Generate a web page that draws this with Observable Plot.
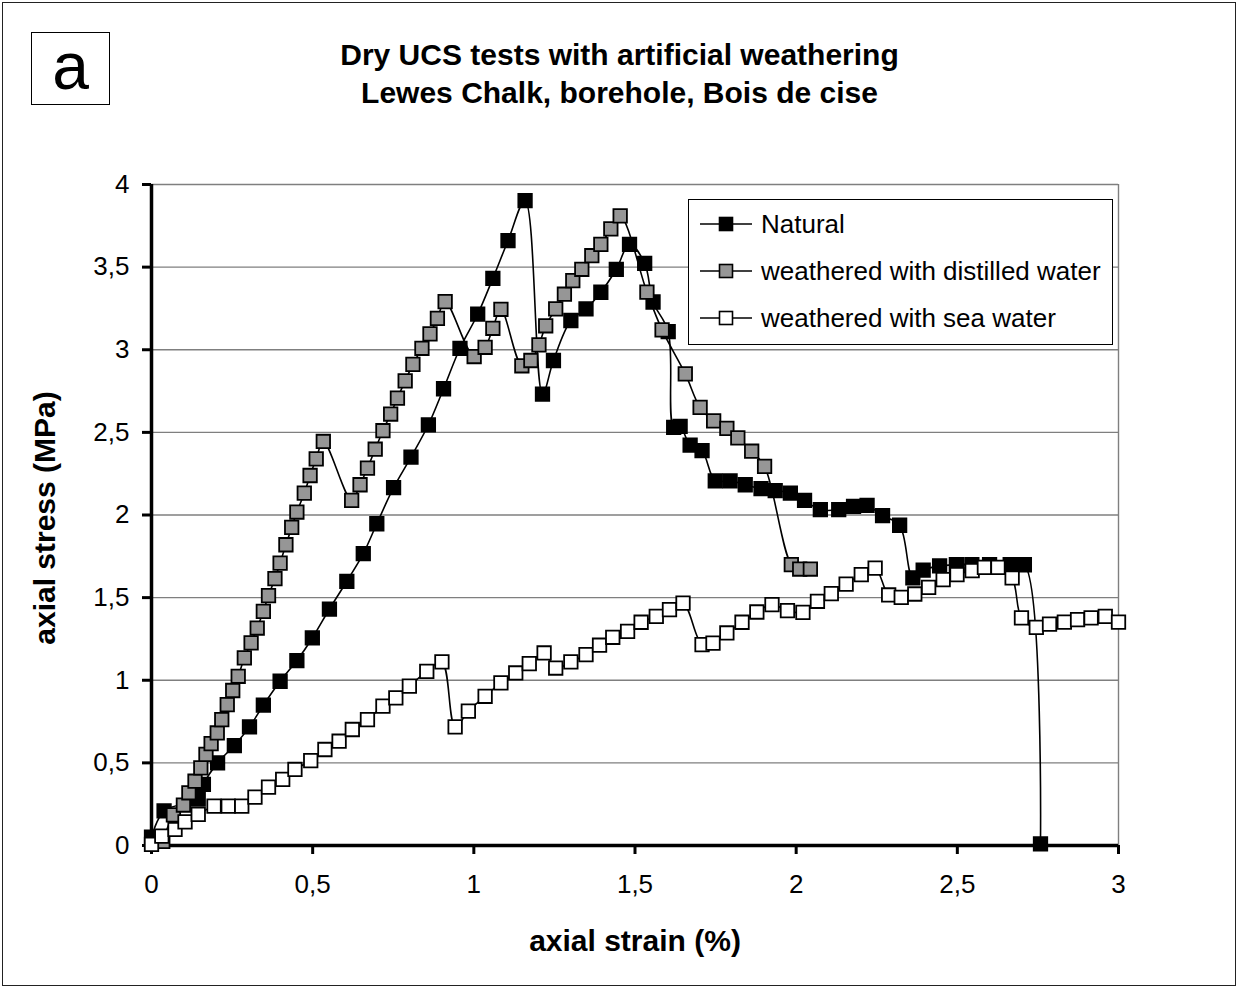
<!DOCTYPE html>
<html>
<head>
<meta charset="utf-8">
<script src="https://cdn.jsdelivr.net/npm/d3@7"></script>
<script src="https://cdn.jsdelivr.net/npm/@observablehq/plot@0.6"></script>
<style>
  html, body { margin: 0; padding: 0; background: #fff; }
  #page { position: relative; width: 1239px; height: 989px; font-family: "Liberation Sans", Arial, sans-serif; color: #000; overflow: hidden; }
  #frame { position: absolute; left: 2px; top: 2px; width: 1232px; height: 982px; border: 1.5px solid #222; }
  #tag { position: absolute; left: 31px; top: 32px; width: 77px; height: 71px; border: 1.5px solid #000; font-size: 66px; line-height: 66px; text-align: center; }
  .title { position: absolute; left: 0; width: 1239px; text-align: center; font-weight: bold; font-size: 30px; white-space: nowrap; }
  #xlabel { position: absolute; left: 335px; width: 600px; top: 924px; text-align: center; font-weight: bold; font-size: 30px; }
  #ylabel { position: absolute; left: 45px; top: 518px; transform: translate(-50%, -50%) rotate(-90deg); font-weight: bold; font-size: 30px; white-space: nowrap; }
  #legend { position: absolute; left: 688px; top: 199px; width: 423px; height: 144px; border: 1.5px solid #000; background: #fff; }
  .entry { position: absolute; left: 10px; height: 40px; display: flex; align-items: center; font-size: 26px; white-space: nowrap; }
  .entry svg { margin-right: 8px; }
  #chart { position: absolute; left: 0; top: 0; }
</style>
</head>
<body>
<div id="page">
  <div id="frame"></div>
  <div id="chart"></div>
  <div id="tag">a</div>
  <div class="title" style="top:38px">Dry UCS tests with artificial weathering</div>
  <div class="title" style="top:76px">Lewes Chalk, borehole, Bois de cise</div>
  <div id="xlabel">axial strain (%)</div>
  <div id="ylabel">axial stress (MPa)</div>
  <div id="legend"></div>
</div>
<script>
// ---- data ----
const seriesNames = ["Natural", "weathered with distilled water", "weathered with sea water"];
const seriesFills = ["#000000", "#969696", "#ffffff"];

const naturalX = [0, 0.039, 0.145, 0.161, 0.205, 0.257, 0.304, 0.347, 0.399, 0.451, 0.499, 0.552, 0.606, 0.657, 0.699, 0.751, 0.805, 0.859, 0.906, 0.957, 1.012, 1.059, 1.106, 1.159, 1.213, 1.247, 1.301, 1.348, 1.394, 1.442, 1.483, 1.530, 1.556, 1.603, 1.620, 1.640, 1.671, 1.708, 1.749, 1.795, 1.842, 1.891, 1.935, 1.982, 2.026, 2.075, 2.132, 2.178, 2.220, 2.268, 2.321, 2.362, 2.394, 2.445, 2.497, 2.545, 2.600, 2.664, 2.708, 2.758];
const naturalY = [0.05, 0.21, 0.28, 0.37, 0.50, 0.605, 0.718, 0.849, 0.994, 1.119, 1.256, 1.431, 1.599, 1.766, 1.947, 2.165, 2.350, 2.546, 2.764, 3.009, 3.215, 3.432, 3.660, 3.902, 2.731, 2.935, 3.177, 3.247, 3.348, 3.487, 3.638, 3.523, 3.289, 3.110, 2.530, 2.536, 2.423, 2.389, 2.207, 2.207, 2.183, 2.159, 2.147, 2.133, 2.088, 2.032, 2.032, 2.052, 2.058, 1.996, 1.938, 1.619, 1.666, 1.692, 1.699, 1.70, 1.70, 1.699, 1.699, 0.01];

const distilledX = [0.035, 0.068, 0.099, 0.116, 0.135, 0.153, 0.169, 0.185, 0.204, 0.218, 0.235, 0.252, 0.269, 0.288, 0.309, 0.328, 0.347, 0.363, 0.383, 0.399, 0.417, 0.435, 0.451, 0.474, 0.492, 0.511, 0.533, 0.621, 0.647, 0.670, 0.694, 0.718, 0.742, 0.763, 0.787, 0.811, 0.839, 0.864, 0.887, 0.911, 1.001, 1.035, 1.059, 1.084, 1.149, 1.177, 1.202, 1.223, 1.254, 1.281, 1.307, 1.335, 1.366, 1.394, 1.425, 1.454, 1.537, 1.584, 1.656, 1.702, 1.744, 1.785, 1.819, 1.862, 1.902, 1.985, 2.011, 2.044];
const distilledY = [0.025, 0.185, 0.245, 0.319, 0.389, 0.470, 0.551, 0.617, 0.681, 0.762, 0.853, 0.938, 1.024, 1.135, 1.226, 1.316, 1.417, 1.512, 1.615, 1.709, 1.820, 1.925, 2.018, 2.132, 2.239, 2.340, 2.445, 2.088, 2.183, 2.284, 2.398, 2.510, 2.611, 2.707, 2.812, 2.912, 3.009, 3.096, 3.190, 3.291, 2.959, 3.015, 3.130, 3.245, 2.903, 2.935, 3.030, 3.145, 3.247, 3.336, 3.418, 3.487, 3.569, 3.638, 3.731, 3.810, 3.349, 3.120, 2.854, 2.651, 2.570, 2.524, 2.467, 2.386, 2.294, 1.700, 1.673, 1.673];

const seaX = [0, 0.032, 0.073, 0.104, 0.145, 0.194, 0.238, 0.280, 0.321, 0.363, 0.407, 0.445, 0.494, 0.538, 0.582, 0.623, 0.670, 0.718, 0.758, 0.800, 0.854, 0.901, 0.942, 0.983, 1.035, 1.084, 1.130, 1.172, 1.218, 1.254, 1.301, 1.348, 1.390, 1.431, 1.477, 1.519, 1.566, 1.607, 1.649, 1.708, 1.742, 1.785, 1.832, 1.878, 1.925, 1.973, 2.021, 2.066, 2.109, 2.155, 2.202, 2.245, 2.287, 2.326, 2.368, 2.411, 2.456, 2.499, 2.546, 2.584, 2.626, 2.670, 2.699, 2.745, 2.786, 2.832, 2.873, 2.915, 2.959, 3.000];
const seaY = [0.007, 0.057, 0.097, 0.143, 0.188, 0.238, 0.238, 0.238, 0.293, 0.353, 0.400, 0.460, 0.514, 0.581, 0.631, 0.702, 0.762, 0.843, 0.893, 0.964, 1.054, 1.111, 0.718, 0.813, 0.903, 0.984, 1.044, 1.101, 1.165, 1.074, 1.111, 1.155, 1.212, 1.260, 1.296, 1.351, 1.387, 1.427, 1.467, 1.216, 1.225, 1.286, 1.351, 1.413, 1.458, 1.421, 1.411, 1.478, 1.524, 1.582, 1.639, 1.679, 1.516, 1.502, 1.522, 1.562, 1.609, 1.639, 1.663, 1.683, 1.683, 1.619, 1.377, 1.320, 1.340, 1.352, 1.367, 1.377, 1.387, 1.352];

const xTicks = [0, 0.5, 1, 1.5, 2, 2.5, 3];
const xTickLabels = ["0", "0,5", "1", "1,5", "2", "2,5", "3"];
const yTicks = [0, 0.5, 1, 1.5, 2, 2.5, 3, 3.5, 4];
const yTickLabels = ["0", "0,5", "1", "1,5", "2", "2,5", "3", "3,5", "4"];

// ---- build tables ----
const toRows = (xs, ys) => xs.map((x, i) => ({x, y: ys[i]}));
const tables = [toRows(naturalX, naturalY), toRows(distilledX, distilledY), toRows(seaX, seaY)];

const seriesMarks = tables.flatMap((rows, i) => [
  Plot.line(rows, {x: "x", y: "y", stroke: "#000", strokeWidth: 1.6, curve: "catmull-rom"}),
  Plot.dot(rows, {x: "x", y: "y", symbol: "square", r: 7.6, fill: seriesFills[i], stroke: "#000", strokeWidth: 1.8})
]);

const chart = Plot.plot({
  width: 1239,
  height: 989,
  marginTop: 184,
  marginBottom: 144,
  marginLeft: 151,
  marginRight: 121,
  style: {fontFamily: "'Liberation Sans', Arial, sans-serif", fontSize: "26px", color: "#000", background: "transparent", overflow: "visible"},
  x: {domain: [0, 3]},
  y: {domain: [0, 4]},
  marks: [
    Plot.ruleY(yTicks.slice(1), {stroke: "#7f7f7f", strokeWidth: 1.4}),
    Plot.ruleX([3], {stroke: "#7f7f7f", strokeWidth: 1.4}),
    Plot.axisX(xTicks, {tickSize: 9, strokeWidth: 3, tickPadding: 20, tickFormat: (d, i) => xTickLabels[i], label: null, fontSize: 26}),
    Plot.axisY(yTicks, {tickSize: 9, strokeWidth: 3, tickPadding: 13, tickFormat: (d, i) => yTickLabels[i], label: null, fontSize: 26}),
    Plot.ruleX([0], {stroke: "#000", strokeWidth: 3.5}),
    Plot.ruleY([0], {stroke: "#000", strokeWidth: 3.5}),
    ...seriesMarks
  ]
});
document.getElementById("chart").appendChild(chart);

// ---- legend ----
const legend = document.getElementById("legend");
seriesNames.forEach((name, i) => {
  const e = document.createElement("div");
  e.className = "entry";
  e.style.top = (4 + i * 47) + "px";
  e.innerHTML = `<svg width="54" height="20" viewBox="0 0 54 20"><line x1="1" y1="10" x2="53" y2="10" stroke="#000" stroke-width="1.6"/><rect x="20.5" y="3.5" width="13" height="13" fill="${seriesFills[i]}" stroke="#000" stroke-width="1.6"/></svg><span></span>`;
  e.querySelector("span").textContent = name;
  legend.appendChild(e);
});
</script>
</body>
</html>
